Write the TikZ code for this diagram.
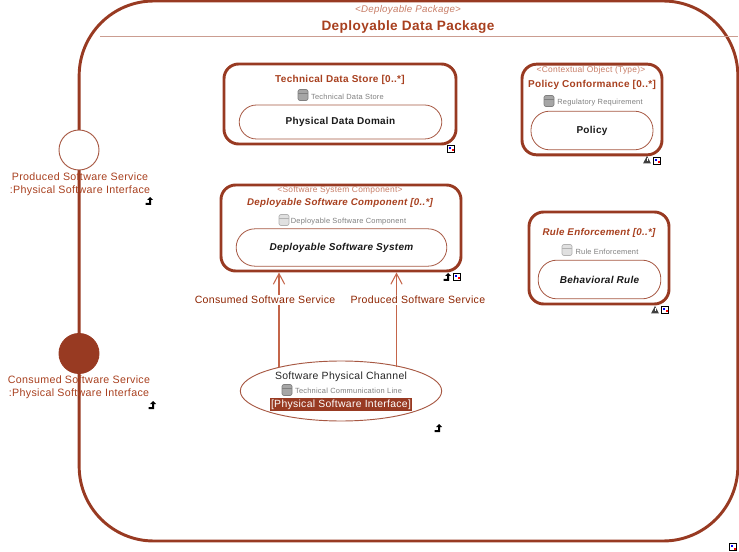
\documentclass[tikz,border=0pt]{standalone}
\usepackage{fontspec}
\setmainfont[LetterSpace=3]{Liberation Sans}
\usetikzlibrary{positioning,calc,shapes.geometric,arrows.meta}
\definecolor{brick}{HTML}{983A22}
\definecolor{brickText}{HTML}{A8401F}
\definecolor{brickLight}{HTML}{C87E68}
\definecolor{flowLine}{HTML}{C4654A}
\definecolor{flowText}{HTML}{8E2400}
\definecolor{typeText}{HTML}{808080}
\begin{document}
\begin{tikzpicture}[x=0.75pt,y=-0.75pt,
% Node styles
 package/.style={draw=brick, line width=2.2pt, rounded corners=56pt, minimum width=494pt, minimum height=405pt},
 block/.style={draw=brick, line width=2.2pt, rounded corners=11pt, fill=white},
 inner/.style={draw=brick!85, line width=0.6pt, rounded corners=13pt, fill=white, text=black!90, font=\fontsize{7.5}{9}\selectfont\bfseries},
 innerit/.style={inner, font=\fontsize{7.5}{9}\selectfont\bfseries\itshape, rounded corners=14pt},
 port/.style={circle, draw=brick!85, line width=0.7pt, fill=white, minimum size=30pt, inner sep=0pt},
 channel/.style={ellipse, draw=brick!85, line width=0.7pt, fill=white, minimum width=151pt, minimum height=45pt, inner sep=0pt},
% Text styles
 title/.style={text=brickText, yshift=-0.7pt, font=\fontsize{7.5}{10}\selectfont\bfseries},
 titleit/.style={text=brickText, yshift=-0.7pt, font=\fontsize{7.3}{10}\selectfont\bfseries\itshape},
 stereo/.style={text=brickLight, font=\fontsize{6.3}{8}\selectfont},
 typename/.style={text=typeText, font=\fontsize{5.6}{7}\selectfont},
 portlabel/.style={text=brickText, align=center, yshift=-0.7pt, font=\fontsize{8}{9.8}\selectfont},
% Edge styles
 flow/.style={draw=flowLine, line width=0.8pt, -{Straight Barb[length=8pt,width=8.5pt]}},
 flowlabel/.style={fill=white, text=flowText, inner sep=1pt, font=\fontsize{7.9}{9}\selectfont},
% Small marks
 cylmark/.pic={\draw[draw=black!50, fill=black!35, line width=0.5pt, rounded corners=1.5pt] (-5,-5.5) rectangle (5,5.5); \draw[black!50, line width=0.5pt] (-5,-2) -- (5,-2);},
 paleCylmark/.pic={\draw[draw=black!30, fill=black!12, line width=0.5pt, rounded corners=1.5pt] (-5,-5.5) rectangle (5,5.5); \draw[black!30, line width=0.5pt] (-5,-2) -- (5,-2);},
 expandmark/.pic={\draw[black, line width=0.7pt, fill=white] (-3.5,-3.5) rectangle (3.5,3.5); \fill[blue] (-2,-2) rectangle (0,0); \fill[red] (0.5,0.5) rectangle (2.5,2.5);},
 upmark/.pic={\fill[black] (-3.5,4) -- (-3.5,2) -- (0,2) -- (0,-1) -- (-2,-1) -- (1,-4) -- (4,-1) -- (2,-1) -- (2,4) -- cycle;},
 warnmark/.pic={\fill[black!75] (0,-4) -- (4,3.5) -- (-4,3.5) -- cycle; \fill[white] (-0.5,-1.5) rectangle (0.5,1.5);}
]
\useasboundingbox (0,0) rectangle (739,552);
% Package frame
\node[package] (deployPackage) at (408.5,271) {};
\coordinate (ruleStart) at (100,36.5);
\coordinate (ruleEnd) at (738,36.5);
\draw[brick!50, line width=1pt] (ruleStart) -- (ruleEnd);
\node[stereo, font=\fontsize{7.3}{8}\selectfont\itshape] (packageStereo) at (408,10) {<Deployable Package>};
\node[title, font=\fontsize{10.2}{12}\selectfont\bfseries] (packageTitle) at (408,26.5) {Deployable Data Package};
% Ports on the frame
\node[port] (producedPort) at (79,150) {};
\node[port, fill=brick, draw=brick] (consumedPort) at (79,353.5) {};
\node[portlabel] (producedLabel) at (80,183.5) {Produced Software Service\\:Physical Software Interface};
\node[portlabel] (consumedLabel) at (79,386.5) {Consumed Software Service\\:Physical Software Interface};
% Technical data store
\node[block, minimum width=174pt, minimum height=60pt] (dataStore) at (340,104) {};
\node[title] (dataStoreTitle) at (340,78.5) {Technical Data Store [0..*]};
\node[typename] (dataStoreType) at (347.5,96.5) {Technical Data Store};
\node[inner, minimum width=152pt, minimum height=25.5pt] (dataDomain) at (340.5,122) {Physical Data Domain};
% Policy conformance
\node[block, minimum width=105pt, minimum height=68pt] (policyBlock) at (592,109.5) {};
\node[stereo] (policyStereo) at (591,70) {<Contextual Object (Type)>};
\node[title] (policyTitle) at (592,84) {Policy Conformance [0..*]};
\node[typename] (policyType) at (600,102.5) {Regulatory Requirement};
\node[inner, rounded corners=14pt, minimum width=91.5pt, minimum height=29pt] (policyInner) at (592,130.5) {Policy};
% Deployable software component
\node[block, minimum width=180pt, minimum height=64.5pt] (softComp) at (341,228) {};
\node[stereo] (softStereo) at (340,190) {<Software System Component>};
\node[titleit] (softTitle) at (340,202.5) {Deployable Software Component [0..*]};
\node[typename] (softType) at (348.5,221.5) {Deployable Software Component};
\node[innerit, minimum width=158pt, minimum height=28pt] (softInner) at (341.5,247.5) {Deployable Software System};
% Rule enforcement
\node[block, minimum width=105pt, minimum height=69pt] (ruleBlock) at (599,258) {};
\node[titleit] (ruleTitle) at (599,232.5) {Rule Enforcement [0..*]};
\node[typename] (ruleType) at (607,251.5) {Rule Enforcement};
\node[innerit, minimum width=92pt, minimum height=29pt] (ruleInner) at (599.5,279.5) {Behavioral Rule};
% Physical channel
\node[channel] (physChannel) at (341,391) {};
\node[text=black!85, font=\fontsize{7.85}{9}\selectfont] (channelTitle) at (341,376.5) {Software Physical Channel};
\node[typename] (channelType) at (348.5,391) {Technical Communication Line};
\node[fill=brick, text=white, inner xsep=0.6pt, inner ysep=1.4pt, font=\fontsize{7.8}{9}\selectfont] (channelIface) at (341,404.5) {[Physical Software Interface]};
% Flows into the component
\coordinate (consumedFoot) at (279,367);
\coordinate (producedFoot) at (396.5,367);
\draw[flow] (consumedFoot) -- (consumedFoot |- softComp.south) node[flowlabel, pos=0.71, xshift=-10.5pt] (consumedFlow) {Consumed Software Service};
\draw[flow] (producedFoot) -- (producedFoot |- softComp.south) node[flowlabel, pos=0.71, xshift=16pt] (producedFlow) {Produced Software Service};
% Cylinder marks
\pic at (303,95) {cylmark};
\pic at (549,101) {cylmark};
\pic at (284,220) {paleCylmark};
\pic at (567,250) {paleCylmark};
\pic at (287,390) {cylmark};
% Corner marks
\pic at (451,149) {expandmark};
\pic at (657,161) {expandmark};
\pic at (457,277) {expandmark};
\pic at (665,310) {expandmark};
\pic at (733,547) {expandmark};
\pic at (149,201) {upmark};
\pic at (447,277) {upmark};
\pic at (152,405) {upmark};
\pic at (438,428) {upmark};
\pic at (647,160) {warnmark};
\pic at (655,310) {warnmark};
\end{tikzpicture}
\end{document}
